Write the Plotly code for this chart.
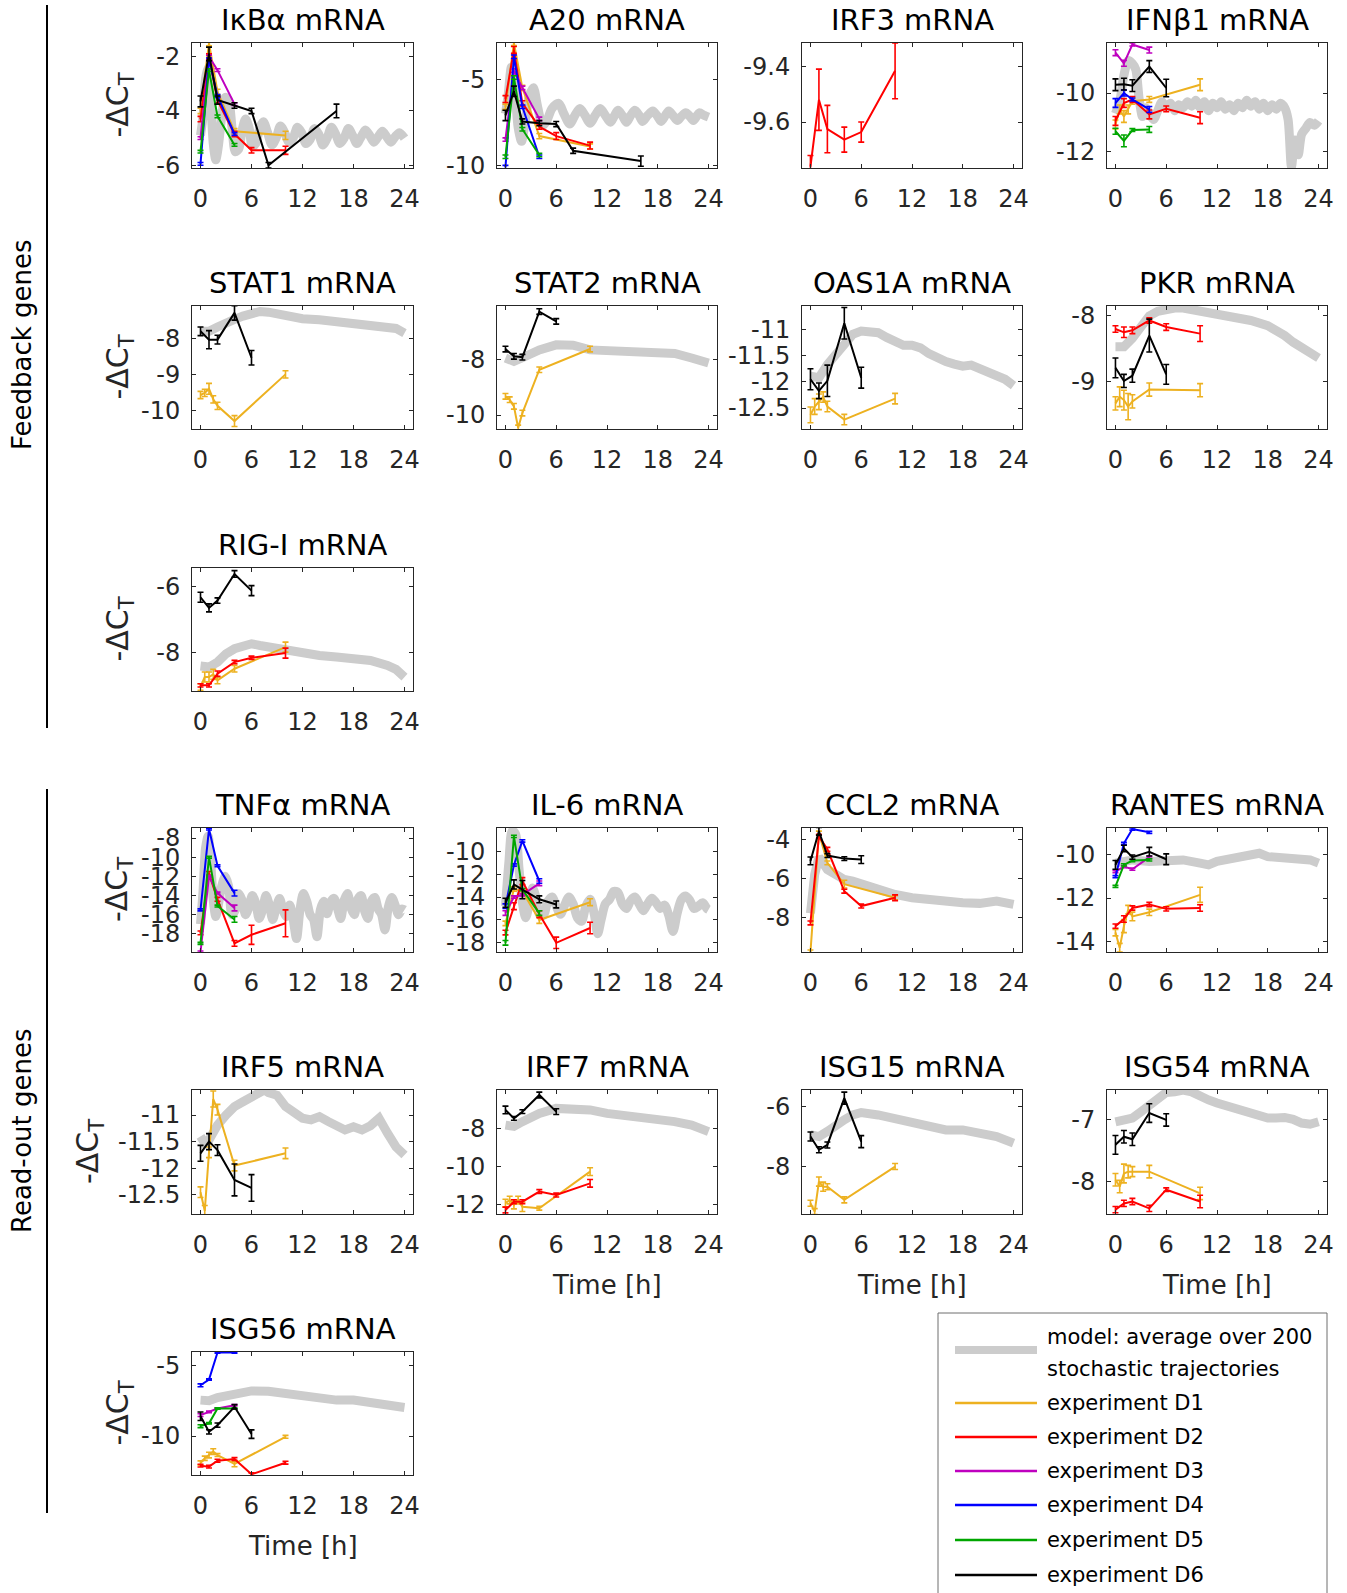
import plotly.graph_objects as go

# ---------------- time grids ----------------
T_D1 = [0, 0.5, 1, 1.5, 2, 4, 10]
T_D1S = [0, 1, 2, 4, 10]
T_D2 = [0, 1, 2, 4, 6, 10]
T_D345 = [0, 1, 2, 4]
T_D6 = [0, 1, 2, 4, 6]
T_D6L = [0, 1, 2, 4, 6, 8, 16]
T_HOURLY = list(range(25))

# ---------------- IkBa ----------------
IKBA_MODEL_T = [0, 0.3, 0.6, 0.9, 1.2, 1.5, 1.8, 2.1, 2.5, 2.9, 3.3, 3.7, 4.1, 4.5, 4.9, 5.3, 5.7, 6.1, 6.5, 7.0,
                7.4, 7.9, 8.4, 8.9, 9.4, 9.9, 10.4, 10.9, 11.4, 11.9, 12.4, 12.9, 13.4, 13.9, 14.4, 14.9, 15.4,
                15.9, 16.4, 16.9, 17.4, 17.9, 18.4, 18.9, 19.4, 19.9, 20.4, 20.9, 21.4, 21.9, 22.4, 22.9, 23.4, 24]
IKBA_MODEL = [-4.9, -4.2, -2.8, -2.4, -3.6, -5.2, -5.8, -5.3, -4.2, -3.5, -3.6, -4.6, -5.5, -5.4, -4.7, -4.3, -4.6,
              -5.3, -5.2, -4.6, -4.4, -4.8, -5.25, -5.0, -4.55, -4.8, -5.15, -5.0, -4.6, -4.8, -5.2, -5.05, -4.65,
              -4.85, -5.25, -5.0, -4.6, -4.85, -5.2, -5.0, -4.65, -4.9, -5.2, -4.95, -4.7, -4.9, -5.15, -4.95,
              -4.75, -4.95, -5.15, -4.95, -4.8, -5.0]
IKBA_D1 = [-4.0, -1.5, -3.3, -4.75, -4.9]
IKBA_D1_ERR = [0.1, 0.1, 0.1, 0.1, 0.15]
IKBA_D2 = [-4.3, -2.0, -3.6, -4.85, -5.45, -5.45]
IKBA_D2_ERR = [0.1, 0.1, 0.1, 0.1, 0.1, 0.15]
IKBA_D3 = [-5.0, -2.0, -2.5, -3.75]
IKBA_D4 = [-5.95, -2.1, -3.45, -4.85]
IKBA_D5 = [-5.5, -2.5, -4.2, -5.25]
IKBA_D345_ERR = [0.05, 0.05, 0.05, 0.05]
IKBA_D6 = [-3.65, -1.9, -3.6, -3.8, -4.0, -6.0, -4.0]
IKBA_D6_ERR = [0.2, 0.25, 0.15, 0.1, 0.1, 0.1, 0.25]

# ---------------- A20 ----------------
A20_MODEL_T = [0, 0.3, 0.7, 1.1, 1.5, 1.9, 2.3, 2.8, 3.3, 3.8, 4.4, 4.9, 5.5, 6.3, 6.9, 7.6, 8.2, 8.8, 9.4, 10.0,
               10.6, 11.2, 11.8, 12.4, 12.9, 13.3, 13.8, 14.3, 14.8, 15.3, 15.8, 16.2, 16.8, 17.4, 17.9, 18.4,
               18.9, 19.3, 19.8, 20.3, 20.8, 21.3, 21.7, 22.2, 22.6, 22.9, 23.5, 24]
A20_MODEL = [-7.0, -6.0, -4.3, -5.5, -7.8, -8.6, -7.6, -6.0, -5.5, -6.6, -7.7, -7.4, -6.7, -6.4, -7.0, -7.6, -7.1,
             -6.7, -7.1, -7.55, -7.1, -6.7, -7.1, -7.5, -7.1, -6.8, -7.1, -7.5, -7.1, -6.8, -7.1, -7.45, -7.1,
             -6.85, -7.1, -7.45, -7.1, -6.85, -7.1, -7.4, -7.15, -6.95, -7.1, -7.4, -7.15, -6.95, -7.1, -7.2]
A20_D1 = [-6.6, -2.9, -5.5, -8.3, -8.9]
A20_D1_ERR = [0.15, 0.15, 0.15, 0.15, 0.15]
A20_D2 = [-6.15, -3.3, -6.4, -7.75, -8.3, -8.85]
A20_D2_ERR = [0.2, 0.2, 0.15, 0.15, 0.2, 0.2]
A20_D3 = [-8.5, -4.5, -5.5, -7.3]
A20_D4 = [-10.1, -3.7, -6.6, -9.5]
A20_D5 = [-9.5, -4.9, -7.9, -9.4]
A20_D345_ERR = [0.1, 0.1, 0.1, 0.1]
A20_D6 = [-7.1, -5.7, -7.45, -7.55, -7.6, -9.15, -9.75]
A20_D6_ERR = [0.3, 0.3, 0.15, 0.15, 0.15, 0.15, 0.3]

# ---------------- IRF3 ----------------
IRF3_D2 = [-9.76, -9.52, -9.625, -9.663, -9.636, -9.416]
IRF3_D2_ERR = [0.04, 0.11, 0.085, 0.045, 0.036, 0.1]

# ---------------- IFNb1 ----------------
IFNB_MODEL_T = [0, 0.5, 1.0, 1.5, 2.0, 2.4, 2.8, 3.2, 3.6, 4.0, 4.5, 5.0, 5.5, 6.0, 6.5, 7.0, 7.5, 8.0, 8.5, 9.0,
                9.5, 10.0, 10.5, 11.0, 11.5, 12.0, 12.5, 13.0, 13.5, 14.0, 14.5, 15.0, 15.5, 16.0, 16.5, 17.0,
                17.5, 18.0, 18.5, 19.0, 19.5, 20.0, 20.4, 20.8, 21.2, 21.6, 22.0, 22.5, 23.0, 23.5, 24.0]
IFNB_MODEL = [-10.7, -10.3, -9.4, -8.9, -9.0, -9.2, -10.2, -10.8, -10.5, -10.7, -10.9, -10.6, -10.3, -10.5, -10.35,
              -10.6, -10.4, -10.5, -10.3, -10.45, -10.25, -10.5, -10.3, -10.6, -10.35, -10.5, -10.3, -10.55,
              -10.4, -10.6, -10.35, -10.5, -10.25, -10.45, -10.3, -10.55, -10.35, -10.6, -10.4, -10.55, -10.35,
              -10.5, -10.9, -12.5, -11.6, -12.1, -11.4, -11.2, -11.0, -11.1, -10.95]
IFNB_D1 = [-11.07, -10.56, -10.8, -10.56, -10.28, -10.22, -9.72]
IFNB_D1_ERR = [0.15, 0.15, 0.2, 0.15, 0.1, 0.1, 0.2]
IFNB_D2 = [-10.95, -10.34, -10.22, -10.73, -10.54, -10.84]
IFNB_D2_ERR = [0.15, 0.15, 0.1, 0.15, 0.1, 0.2]
IFNB_D3 = [-8.63, -8.99, -8.35, -8.54]
IFNB_D3_ERR = [0.1, 0.1, 0.05, 0.1]
IFNB_D4 = [-10.34, -10.0, -10.22, -10.56]
IFNB_D4_ERR = [0.15, 0.1, 0.05, 0.1]
IFNB_D5 = [-11.3, -11.63, -11.26, -11.24]
IFNB_D5_ERR = [0.1, 0.2, 0.05, 0.1]
IFNB_D6 = [-9.72, -9.7, -9.75, -9.1, -9.83]
IFNB_D6_ERR = [0.2, 0.2, 0.2, 0.2, 0.3]

# ---------------- STAT1 ----------------
STAT1_MODEL_T = [0, 1, 2, 3, 4, 5, 6, 7, 8, 10, 12, 14, 16, 18, 20, 22, 23, 24]
STAT1_MODEL = [-7.8, -7.8, -7.68, -7.55, -7.47, -7.38, -7.3, -7.25, -7.27, -7.38, -7.45, -7.48, -7.52, -7.57,
               -7.63, -7.7, -7.72, -7.85]
STAT1_D1 = [-9.56, -9.5, -9.39, -9.68, -9.86, -10.28, -8.99]
STAT1_D1_ERR = [0.1, 0.1, 0.15, 0.1, 0.1, 0.15, 0.1]
STAT1_D6 = [-7.8, -8.03, -8.03, -7.29, -8.53]
STAT1_D6_ERR = [0.12, 0.25, 0.12, 0.2, 0.2]

# ---------------- STAT2 ----------------
STAT2_MODEL_T = [0, 1, 2, 4, 6, 8, 10, 12, 14, 16, 18, 20, 22, 24]
STAT2_MODEL = [-7.96, -8.08, -7.95, -7.67, -7.49, -7.5, -7.67, -7.7, -7.73, -7.78, -7.85, -7.8, -7.96, -8.14]
STAT2_D1 = [-9.33, -9.45, -9.69, -10.46, -9.93, -8.38, -7.64]
STAT2_D1_ERR = [0.1, 0.1, 0.1, 0.1, 0.1, 0.1, 0.1]
STAT2_D6 = [-7.64, -7.9, -7.93, -6.3, -6.65]
STAT2_D6_ERR = [0.1, 0.1, 0.1, 0.1, 0.1]

# ---------------- OAS1A ----------------
OAS1A_MODEL = [-11.89, -11.92, -11.67, -11.49, -11.25, -11.09, -11.03, -11.06, -11.06, -11.15, -11.25, -11.3,
               -11.3, -11.35, -11.46, -11.55, -11.61, -11.66, -11.7, -11.68, -11.74, -11.8, -11.86, -11.95, -12.07]
OAS1A_D1 = [-12.63, -12.47, -12.38, -12.29, -12.47, -12.72, -12.32]
OAS1A_D1_ERR = [0.15, 0.15, 0.15, 0.1, 0.1, 0.1, 0.1]
OAS1A_D6 = [-11.95, -12.17, -11.98, -10.88, -11.92]
OAS1A_D6_ERR = [0.2, 0.15, 0.3, 0.3, 0.2]

# ---------------- PKR ----------------
PKR_MODEL_T = [0, 1, 2, 3, 4, 5, 6, 7, 8, 9, 10, 12, 14, 16, 18, 19, 20, 21, 22, 23, 24]
PKR_MODEL = [-8.47, -8.47, -8.34, -8.17, -8.0, -7.93, -7.9, -7.88, -7.88, -7.9, -7.93, -7.98, -8.0, -8.07,
             -8.15, -8.22, -8.3, -8.4, -8.49, -8.59, -8.64]
PKR_D1 = [-9.33, -9.23, -9.28, -9.38, -9.3, -9.12, -9.13]
PKR_D1_ERR = [0.1, 0.15, 0.15, 0.2, 0.1, 0.1, 0.1]
PKR_D2 = [-8.2, -8.25, -8.22, -8.07, -8.17, -8.27]
PKR_D2_ERR = [0.05, 0.08, 0.05, 0.04, 0.05, 0.12]
PKR_D6 = [-8.79, -8.99, -8.91, -8.3, -8.89]
PKR_D6_ERR = [0.15, 0.1, 0.1, 0.25, 0.15]

# ---------------- RIG-I ----------------
RIGI_MODEL_T = [0, 1, 2, 3, 4, 5, 6, 7, 8, 10, 12, 14, 16, 18, 20, 22, 23, 24]
RIGI_MODEL = [-8.4, -8.43, -8.28, -8.03, -7.88, -7.78, -7.73, -7.78, -7.83, -7.88, -7.98, -8.08, -8.13, -8.18,
              -8.23, -8.38, -8.5, -8.73]
RIGI_D1 = [-9.03, -8.73, -8.73, -8.65, -8.83, -8.48, -7.83]
RIGI_D1_ERR = [0.1, 0.15, 0.15, 0.15, 0.1, 0.1, 0.15]
RIGI_D2 = [-8.98, -8.98, -8.63, -8.28, -8.15, -8.01]
RIGI_D2_ERR = [0.05, 0.05, 0.08, 0.05, 0.05, 0.15]
RIGI_D6 = [-6.33, -6.65, -6.43, -5.63, -6.13]
RIGI_D6_ERR = [0.15, 0.12, 0.08, 0.1, 0.15]

# ---------------- TNFa ----------------
TNF_MODEL_T = [0, 0.3, 0.6, 0.9, 1.2, 1.5, 1.8, 2.1, 2.5, 2.9, 3.3, 3.7, 4.1, 4.5, 4.9, 5.3, 5.7, 6.1, 6.5, 6.9,
               7.3, 7.7, 8.1, 8.5, 8.9, 9.3, 9.7, 10.1, 10.5, 10.9, 11.3, 11.7, 12.1, 12.5, 12.9, 13.3, 13.7, 14.1,
               14.5, 14.9, 15.3, 15.7, 16.1, 16.5, 16.9, 17.3, 17.7, 18.1, 18.5, 18.9, 19.3, 19.7, 20.1, 20.5,
               20.9, 21.3, 21.7, 22.1, 22.5, 22.9, 23.3, 23.7, 24]
TNF_MODEL = [-17.0, -13.5, -9.0, -7.8, -10.5, -14.5, -16.2, -15.0, -13.0, -12.0, -13.0, -16.0, -15.5, -13.8, -14.5,
             -16.0, -15.2, -14.0, -14.8, -16.4, -15.5, -14.0, -15.0, -16.5, -15.3, -14.3, -15.5, -16.2, -15.0,
             -16.5, -18.5, -15.5, -13.8, -14.6, -16.0, -16.5, -18.3, -15.5, -14.6, -15.9, -14.7, -14.3, -15.3,
             -16.4, -14.5, -13.8, -15.3, -16.0, -14.4, -14.0, -15.6, -16.4, -14.6, -14.2, -15.4, -16.0, -17.6,
             -15.2, -14.2, -15.0, -16.0, -15.4, -15.5]
TNF_D2 = [-17.9, -11.7, -14.4, -19.0, -18.1, -16.9]
TNF_D2_ERR = [0.2, 0.2, 0.2, 0.3, 1.0, 1.4]
TNF_D3 = [-19.9, -12.0, -13.75, -15.3]
TNF_D4 = [-15.5, -7.06, -10.9, -13.75]
TNF_D5 = [-19.0, -10.0, -15.1, -16.5]
TNF_D345_ERR = [0.1, 0.1, 0.1, 0.3]

# ---------------- IL-6 ----------------
IL6_MODEL_T = [0, 0.4, 0.8, 1.2, 1.6, 2.0, 2.4, 2.8, 3.2, 3.6, 4.0, 4.5, 5.0, 5.5, 6.0, 6.5, 7.0, 7.5, 8.0, 8.5,
               9.0, 9.5, 10.0, 10.5, 10.9, 11.3, 11.8, 12.3, 12.8, 13.3, 13.8, 14.3, 14.8, 15.3, 15.8, 16.3, 16.8,
               17.3, 17.8, 18.3, 18.8, 19.3, 19.8, 20.3, 20.8, 21.3, 21.8, 22.3, 22.8, 23.3, 23.8, 24]
IL6_MODEL = [-14.8, -11.0, -8.2, -8.5, -11.5, -14.5, -15.8, -14.6, -13.2, -14.0, -15.5, -15.6, -14.4, -14.0, -14.8,
             -15.5, -14.7, -14.0, -14.6, -15.8, -16.1, -14.8, -14.2, -15.5, -17.2, -16.0, -14.6, -14.2, -13.5,
             -13.6, -14.6, -15.0, -14.3, -14.0, -14.6, -15.2, -14.6, -14.1, -14.5, -15.0, -14.7, -15.6, -17.0,
             -15.4, -14.2, -13.9, -14.3, -15.0, -14.8, -14.5, -15.0, -15.1]
IL6_D1 = [-16.3, -13.3, -13.5, -16.0, -14.45]
IL6_D1_ERR = [0.2, 0.2, 0.2, 0.3, 0.3]
IL6_D2 = [-17.1, -14.8, -12.6, -15.5, -18.0, -16.7]
IL6_D2_ERR = [0.2, 0.3, 0.3, 0.3, 0.5, 0.5]
IL6_D3 = [-15.4, -14.0, -13.8, -12.8]
IL6_D4 = [-14.8, -11.2, -9.1, -12.6]
IL6_D5 = [-18.0, -8.7, -13.35, -15.4]
IL6_D345_ERR = [0.2, 0.1, 0.1, 0.2]
IL6_D6 = [-14.5, -12.9, -13.35, -14.2, -14.65]
IL6_D6_ERR = [0.4, 0.4, 0.8, 0.3, 0.3]

# ---------------- CCL2 ----------------
CCL2_MODEL_T = [0, 0.5, 1, 1.5, 2, 3, 4, 5, 6, 8, 10, 12, 14, 16, 18, 20, 22, 24]
CCL2_MODEL = [-7.8, -5.8, -4.9, -5.3, -5.55, -5.8, -6.06, -6.14, -6.3, -6.57, -6.83, -7.0, -7.09, -7.26, -7.26,
              -7.29, -7.17, -7.34]
CCL2_D1 = [-9.8, -3.66, -5.2, -6.3, -7.0]
CCL2_D1_ERR = [0.1, 0.1, 0.1, 0.2, 0.1]
CCL2_D2 = [-8.3, -3.83, -4.5, -6.66, -7.43, -7.0]
CCL2_D2_ERR = [0.1, 0.1, 0.1, 0.1, 0.1, 0.15]
CCL2_D6 = [-5.1, -3.57, -4.82, -4.98, -5.03]
CCL2_D6_ERR = [0.2, 0.2, 0.1, 0.1, 0.2]

# ---------------- RANTES ----------------
RANTES_MODEL_T = [0, 1, 2, 4, 6, 8, 10, 11, 12, 14, 16, 17, 18, 20, 22, 23, 24]
RANTES_MODEL = [-10.38, -10.3, -10.23, -10.3, -10.3, -10.23, -10.38, -10.46, -10.3, -10.15, -9.95, -9.92, -10.08,
                -10.15, -10.15, -10.23, -10.38]
RANTES_D1 = [-13.6, -14.3, -13.3, -12.54, -12.85, -12.66, -11.85]
RANTES_D1_ERR = [0.15, 0.2, 0.3, 0.2, 0.2, 0.15, 0.35]
RANTES_D2 = [-13.3, -12.97, -12.46, -12.3, -12.5, -12.46]
RANTES_D2_ERR = [0.1, 0.15, 0.1, 0.1, 0.1, 0.15]
RANTES_D3 = [-10.77, -10.54, -10.66, -10.1]
RANTES_D4 = [-11.0, -9.46, -8.8, -8.95]
RANTES_D5 = [-11.46, -10.46, -10.26, -10.23]
RANTES_D345_ERR = [0.05, 0.05, 0.05, 0.05]
RANTES_D6 = [-10.46, -9.7, -10.1, -9.85, -10.2]
RANTES_D6_ERR = [0.2, 0.15, 0.1, 0.2, 0.25]

# ---------------- IRF5 ----------------
IRF5_MODEL_T = [0, 0.5, 1, 2, 3, 4, 5, 6, 7, 7.5, 8, 9, 10, 11, 12, 13, 14, 15, 16, 17, 18, 19, 20, 21, 22, 23, 24]
IRF5_MODEL = [-11.4, -11.53, -11.47, -11.19, -11.0, -10.84, -10.75, -10.66, -10.6, -10.53, -10.58, -10.63, -10.84,
              -10.97, -11.06, -11.09, -11.03, -11.12, -11.19, -11.28, -11.22, -11.28, -11.2, -11.06, -11.34,
              -11.6, -11.75]
IRF5_D1 = [-12.45, -12.8, -11.7, -10.7, -10.9, -11.95, -11.72]
IRF5_D1_ERR = [0.1, 0.1, 0.1, 0.15, 0.1, 0.1, 0.1]
IRF5_D6 = [-11.72, -11.5, -11.66, -12.22, -12.37]
IRF5_D6_ERR = [0.15, 0.15, 0.1, 0.3, 0.25]

# ---------------- IRF7 ----------------
IRF7_MODEL_T = [0, 1, 2, 4, 6, 8, 10, 12, 14, 16, 18, 20, 22, 24]
IRF7_MODEL = [-7.83, -7.9, -7.65, -7.22, -6.96, -6.96, -7.04, -7.22, -7.3, -7.48, -7.57, -7.65, -7.83, -8.17]
IRF7_D1 = [-11.9, -11.74, -12.0, -11.74, -12.09, -12.17, -10.26]
IRF7_D1_ERR = [0.2, 0.2, 0.2, 0.2, 0.25, 0.1, 0.2]
IRF7_D2 = [-12.26, -11.83, -11.83, -11.3, -11.48, -10.87]
IRF7_D2_ERR = [0.15, 0.1, 0.1, 0.1, 0.1, 0.2]
IRF7_D6 = [-7.04, -7.48, -7.13, -6.26, -7.13]
IRF7_D6_ERR = [0.2, 0.1, 0.1, 0.15, 0.15]

# ---------------- ISG15 ----------------
ISG15_MODEL_T = [0, 1, 2, 3, 4, 5, 6, 8, 10, 12, 14, 16, 18, 20, 22, 24]
ISG15_MODEL = [-6.94, -7.0, -6.83, -6.61, -6.44, -6.28, -6.2, -6.28, -6.39, -6.5, -6.67, -6.78, -6.78, -6.89,
               -7.0, -7.22]
ISG15_D1 = [-9.22, -9.5, -8.5, -8.67, -8.67, -9.11, -8.0]
ISG15_D1_ERR = [0.1, 0.1, 0.15, 0.15, 0.1, 0.1, 0.1]
ISG15_D6 = [-7.0, -7.44, -7.28, -5.72, -7.17]
ISG15_D6_ERR = [0.15, 0.1, 0.1, 0.2, 0.2]

# ---------------- ISG54 ----------------
ISG54_MODEL = [-7.04, -7.02, -6.98, -6.88, -6.77, -6.64, -6.57, -6.56, -6.53, -6.56, -6.64, -6.69, -6.74, -6.78,
               -6.82, -6.88, -6.93, -6.96, -6.98, -6.98, -6.97, -7.0, -7.06, -7.08, -7.04]
ISG54_D1 = [-7.97, -8.08, -7.87, -7.84, -7.84, -7.84, -8.19]
ISG54_D1_ERR = [0.1, 0.1, 0.15, 0.1, 0.08, 0.1, 0.1]
ISG54_D2 = [-8.45, -8.35, -8.32, -8.43, -8.13, -8.32]
ISG54_D2_ERR = [0.05, 0.05, 0.05, 0.05, 0.03, 0.1]
ISG54_D6 = [-7.41, -7.28, -7.32, -6.9, -7.01]
ISG54_D6_ERR = [0.15, 0.1, 0.1, 0.15, 0.1]

# ---------------- ISG56 ----------------
ISG56_MODEL_T = [0, 1, 2, 4, 6, 8, 10, 12, 14, 16, 18, 20, 22, 24]
ISG56_MODEL = [-7.46, -7.5, -7.28, -7.0, -6.81, -6.83, -7.0, -7.18, -7.35, -7.46, -7.46, -7.65, -7.82, -7.98]
ISG56_D1 = [-11.9, -11.57, -11.34, -11.1, -11.34, -11.97, -10.05]
ISG56_D1_ERR = [0.15, 0.15, 0.2, 0.2, 0.1, 0.2, 0.1]
ISG56_D2 = [-12.09, -12.16, -11.74, -11.62, -12.7, -11.88]
ISG56_D2_ERR = [0.1, 0.1, 0.1, 0.1, 0.1, 0.1]
ISG56_D3 = [-8.52, -8.29, -8.05, -7.82]
ISG56_D4 = [-6.41, -6.01, -4.1, -4.1]
ISG56_D5 = [-9.3, -9.1, -8.05, -8.05]
ISG56_D345_ERR = [0.1, 0.05, 0.05, 0.05]
ISG56_D6 = [-8.6, -9.7, -9.23, -7.93, -9.86]
ISG56_D6_ERR = [0.3, 0.15, 0.15, 0.15, 0.3]

# ---------------- styling ----------------
FIG_W, FIG_H = 1347, 1593
FONT = "DejaVu Sans, Liberation Sans, Arial, sans-serif"
AX_COLOR = "#262626"
MODEL_COLOR = "#CCCCCC"
EXP_COLORS = {"D1": "#EDB120", "D2": "#FF0000", "D3": "#BF00BF", "D4": "#0000FF", "D5": "#00A600", "D6": "#000000"}
COL_X = [(192, 413), (497, 717), (802, 1022), (1107, 1327)]
ROW_Y = [(43, 168), (306, 429), (568, 691), (828, 952), (1090, 1214), (1352, 1475)]
SMOOTH_MODELS = {"IκBα mRNA", "A20 mRNA", "IFNβ1 mRNA", "TNFα mRNA", "IL-6 mRNA"}

PANELS = [
    dict(title="IκBα mRNA", row=0, col=0, yr=[-6.1, -1.5], yt=[-6, -4, -2], ylab=119,
         model=(IKBA_MODEL_T, IKBA_MODEL),
         exp=[("D1", T_D1S, IKBA_D1, IKBA_D1_ERR), ("D2", T_D2, IKBA_D2, IKBA_D2_ERR),
              ("D3", T_D345, IKBA_D3, IKBA_D345_ERR), ("D4", T_D345, IKBA_D4, IKBA_D345_ERR),
              ("D5", T_D345, IKBA_D5, IKBA_D345_ERR), ("D6", T_D6L, IKBA_D6, IKBA_D6_ERR)]),
    dict(title="A20 mRNA", row=0, col=1, yr=[-10.15, -2.9], yt=[-10, -5],
         model=(A20_MODEL_T, A20_MODEL),
         exp=[("D1", T_D1S, A20_D1, A20_D1_ERR), ("D2", T_D2, A20_D2, A20_D2_ERR),
              ("D3", T_D345, A20_D3, A20_D345_ERR), ("D4", T_D345, A20_D4, A20_D345_ERR),
              ("D5", T_D345, A20_D5, A20_D345_ERR), ("D6", T_D6L, A20_D6, A20_D6_ERR)]),
    dict(title="IRF3 mRNA", row=0, col=2, yr=[-9.765, -9.316], yt=[-9.6, -9.4], model=None,
         exp=[("D2", T_D2, IRF3_D2, IRF3_D2_ERR)]),
    dict(title="IFNβ1 mRNA", row=0, col=3, yr=[-12.55, -8.3], yt=[-12, -10],
         model=(IFNB_MODEL_T, IFNB_MODEL),
         exp=[("D1", T_D1, IFNB_D1, IFNB_D1_ERR), ("D2", T_D2, IFNB_D2, IFNB_D2_ERR),
              ("D3", T_D345, IFNB_D3, IFNB_D3_ERR), ("D4", T_D345, IFNB_D4, IFNB_D4_ERR),
              ("D5", T_D345, IFNB_D5, IFNB_D5_ERR), ("D6", T_D6, IFNB_D6, IFNB_D6_ERR)]),
    dict(title="STAT1 mRNA", row=1, col=0, yr=[-10.5, -7.1], yt=[-10, -9, -8], ylab=119,
         model=(STAT1_MODEL_T, STAT1_MODEL),
         exp=[("D1", T_D1, STAT1_D1, STAT1_D1_ERR), ("D6", T_D6, STAT1_D6, STAT1_D6_ERR)]),
    dict(title="STAT2 mRNA", row=1, col=1, yr=[-10.5, -6.1], yt=[-10, -8],
         model=(STAT2_MODEL_T, STAT2_MODEL),
         exp=[("D1", T_D1, STAT2_D1, STAT2_D1_ERR), ("D6", T_D6, STAT2_D6, STAT2_D6_ERR)]),
    dict(title="OAS1A mRNA", row=1, col=2, yr=[-12.9, -10.55], yt=[-12.5, -12, -11.5, -11],
         model=(T_HOURLY, OAS1A_MODEL),
         exp=[("D1", T_D1, OAS1A_D1, OAS1A_D1_ERR), ("D6", T_D6, OAS1A_D6, OAS1A_D6_ERR)]),
    dict(title="PKR mRNA", row=1, col=3, yr=[-9.72, -7.85], yt=[-9, -8],
         model=(PKR_MODEL_T, PKR_MODEL),
         exp=[("D1", T_D1, PKR_D1, PKR_D1_ERR), ("D2", T_D2, PKR_D2, PKR_D2_ERR),
              ("D6", T_D6, PKR_D6, PKR_D6_ERR)]),
    dict(title="RIG-I mRNA", row=2, col=0, yr=[-9.15, -5.45], yt=[-8, -6], ylab=119,
         model=(RIGI_MODEL_T, RIGI_MODEL),
         exp=[("D1", T_D1, RIGI_D1, RIGI_D1_ERR), ("D2", T_D2, RIGI_D2, RIGI_D2_ERR),
              ("D6", T_D6, RIGI_D6, RIGI_D6_ERR)]),
    dict(title="TNFα mRNA", row=3, col=0, yr=[-19.9, -6.95], yt=[-18, -16, -14, -12, -10, -8], ylab=119,
         model=(TNF_MODEL_T, TNF_MODEL),
         exp=[("D2", T_D2, TNF_D2, TNF_D2_ERR), ("D3", T_D345, TNF_D3, TNF_D345_ERR),
              ("D4", T_D345, TNF_D4, TNF_D345_ERR), ("D5", T_D345, TNF_D5, TNF_D345_ERR)]),
    dict(title="IL-6 mRNA", row=3, col=1, yr=[-18.8, -7.97], yt=[-18, -16, -14, -12, -10],
         model=(IL6_MODEL_T, IL6_MODEL),
         exp=[("D1", T_D1S, IL6_D1, IL6_D1_ERR), ("D2", T_D2, IL6_D2, IL6_D2_ERR),
              ("D3", T_D345, IL6_D3, IL6_D345_ERR), ("D4", T_D345, IL6_D4, IL6_D345_ERR),
              ("D5", T_D345, IL6_D5, IL6_D345_ERR), ("D6", T_D6, IL6_D6, IL6_D6_ERR)]),
    dict(title="CCL2 mRNA", row=3, col=2, yr=[-9.8, -3.4], yt=[-8, -6, -4],
         model=(CCL2_MODEL_T, CCL2_MODEL),
         exp=[("D1", T_D1S, CCL2_D1, CCL2_D1_ERR), ("D2", T_D2, CCL2_D2, CCL2_D2_ERR),
              ("D6", T_D6, CCL2_D6, CCL2_D6_ERR)]),
    dict(title="RANTES mRNA", row=3, col=3, yr=[-14.5, -8.75], yt=[-14, -12, -10],
         model=(RANTES_MODEL_T, RANTES_MODEL),
         exp=[("D1", T_D1, RANTES_D1, RANTES_D1_ERR), ("D2", T_D2, RANTES_D2, RANTES_D2_ERR),
              ("D3", T_D345, RANTES_D3, RANTES_D345_ERR), ("D4", T_D345, RANTES_D4, RANTES_D345_ERR),
              ("D5", T_D345, RANTES_D5, RANTES_D345_ERR), ("D6", T_D6, RANTES_D6, RANTES_D6_ERR)]),
    dict(title="IRF5 mRNA", row=4, col=0, yr=[-12.86, -10.53], yt=[-12.5, -12, -11.5, -11], ylab=89,
         model=(IRF5_MODEL_T, IRF5_MODEL),
         exp=[("D1", T_D1, IRF5_D1, IRF5_D1_ERR), ("D6", T_D6, IRF5_D6, IRF5_D6_ERR)]),
    dict(title="IRF7 mRNA", row=4, col=1, yr=[-12.47, -6.0], yt=[-12, -10, -8], xlab=True,
         model=(IRF7_MODEL_T, IRF7_MODEL),
         exp=[("D1", T_D1, IRF7_D1, IRF7_D1_ERR), ("D2", T_D2, IRF7_D2, IRF7_D2_ERR),
              ("D6", T_D6, IRF7_D6, IRF7_D6_ERR)]),
    dict(title="ISG15 mRNA", row=4, col=2, yr=[-9.58, -5.45], yt=[-8, -6], xlab=True,
         model=(ISG15_MODEL_T, ISG15_MODEL),
         exp=[("D1", T_D1, ISG15_D1, ISG15_D1_ERR), ("D6", T_D6, ISG15_D6, ISG15_D6_ERR)]),
    dict(title="ISG54 mRNA", row=4, col=3, yr=[-8.52, -6.53], yt=[-8, -7], xlab=True,
         model=(T_HOURLY, ISG54_MODEL),
         exp=[("D1", T_D1, ISG54_D1, ISG54_D1_ERR), ("D2", T_D2, ISG54_D2, ISG54_D2_ERR),
              ("D6", T_D6, ISG54_D6, ISG54_D6_ERR)]),
    dict(title="ISG56 mRNA", row=5, col=0, yr=[-12.75, -4.06], yt=[-10, -5], ylab=119, xlab=True,
         model=(ISG56_MODEL_T, ISG56_MODEL),
         exp=[("D1", T_D1, ISG56_D1, ISG56_D1_ERR), ("D2", T_D2, ISG56_D2, ISG56_D2_ERR),
              ("D3", T_D345, ISG56_D3, ISG56_D345_ERR), ("D4", T_D345, ISG56_D4, ISG56_D345_ERR),
              ("D5", T_D345, ISG56_D5, ISG56_D345_ERR), ("D6", T_D6, ISG56_D6, ISG56_D6_ERR)]),
]


def fx(px):
    return px / FIG_W


def fy(py):
    return 1 - py / FIG_H


fig = go.Figure()
layout = dict(
    template="none",
    width=FIG_W, height=FIG_H, margin=dict(l=0, r=0, t=0, b=0, pad=0, autoexpand=False),
    paper_bgcolor="white", plot_bgcolor="white", showlegend=False,
    font=dict(family=FONT, color=AX_COLOR),
)
annotations = []
shapes = []

for i, p in enumerate(PANELS):
    s = "" if i == 0 else str(i + 1)
    xa, ya = "x" + s, "y" + s
    x0, x1 = COL_X[p["col"]]
    y0, y1 = ROW_Y[p["row"]]
    if p["model"] is not None:
        shape = dict(shape="spline", smoothing=0.8) if p["title"] in SMOOTH_MODELS else dict(shape="linear")
        fig.add_trace(go.Scatter(x=p["model"][0], y=p["model"][1], mode="lines",
                                 line=dict(color=MODEL_COLOR, width=9, **shape), hoverinfo="skip",
                                 xaxis=xa, yaxis=ya))
    for key, t, v, e in p["exp"]:
        c = EXP_COLORS[key]
        fig.add_trace(go.Scatter(x=t, y=v, mode="lines", name="experiment " + key,
                                 line=dict(color=c, width=2),
                                 error_y=dict(type="data", array=e, visible=True, color=c,
                                              thickness=1.6, width=3),
                                 xaxis=xa, yaxis=ya))
    common = dict(showline=True, linecolor=AX_COLOR, linewidth=1, mirror="ticks", ticks="inside",
                  ticklen=4, tickwidth=1, tickcolor=AX_COLOR, showgrid=False, zeroline=False,
                  automargin=False,
                  tickfont=dict(family=FONT, size=24, color=AX_COLOR), fixedrange=True)
    layout["xaxis" + s] = dict(domain=[fx(x0), fx(x1)], range=[-1, 25], tickvals=[0, 6, 12, 18, 24],
                               ticktext=["0", "6", "12", "18", "24"], anchor=ya,
                               ticklabelstandoff=9, **common)
    layout["yaxis" + s] = dict(domain=[fy(y1), fy(y0)], range=p["yr"], tickvals=p["yt"],
                               ticktext=[f"{v:g}" for v in p["yt"]], anchor=xa,
                               ticklabelstandoff=6, **common)
    annotations.append(dict(text=p["title"], x=fx((x0 + x1) / 2), y=fy(y0 - 23), xref="paper", yref="paper",
                            xanchor="center", yanchor="middle", showarrow=False,
                            font=dict(family=FONT, size=29, color="black")))
    if "ylab" in p:
        annotations.append(dict(text="-ΔC<sub>T</sub>", x=fx(p["ylab"]), y=fy((y0 + y1) / 2),
                                xref="paper", yref="paper", xanchor="center", yanchor="middle",
                                textangle=-90, showarrow=False,
                                font=dict(family=FONT, size=30, color=AX_COLOR)))
    if p.get("xlab"):
        annotations.append(dict(text="Time [h]", x=fx((x0 + x1) / 2), y=fy(y1 + 71),
                                xref="paper", yref="paper", xanchor="center", yanchor="middle",
                                showarrow=False, font=dict(family=FONT, size=26, color=AX_COLOR)))

# group labels and brackets
for text, yc, ya_, yb_ in [("Feedback genes", 345, 5, 728), ("Read-out genes", 1131, 789, 1513)]:
    annotations.append(dict(text=text, x=fx(22), y=fy(yc), xref="paper", yref="paper",
                            xanchor="center", yanchor="middle", textangle=-90, showarrow=False,
                            font=dict(family=FONT, size=26, color="black")))
    shapes.append(dict(type="line", xref="paper", yref="paper", x0=fx(47), x1=fx(47), y0=fy(ya_), y1=fy(yb_),
                       line=dict(color="black", width=2)))

# legend box
shapes.append(dict(type="rect", xref="paper", yref="paper", x0=fx(938), x1=fx(1327), y0=fy(1313), y1=fy(1600),
                   line=dict(color="#6f6f6f", width=1), fillcolor="white"))
LEG = [("model", 1350, MODEL_COLOR, 8)] + [(k, yy, EXP_COLORS[k], 2.5) for k, yy in
                                           zip(["D1", "D2", "D3", "D4", "D5", "D6"],
                                               [1403, 1437, 1471, 1505, 1540, 1575])]
for k, yy, c, w in LEG:
    shapes.append(dict(type="line", xref="paper", yref="paper", x0=fx(955), x1=fx(1037), y0=fy(yy), y1=fy(yy),
                       line=dict(color=c, width=w)))
    if k == "model":
        for txt, ty in [("model: average over 200", 1337), ("stochastic trajectories", 1369)]:
            annotations.append(dict(text=txt, x=fx(1045), y=fy(ty), xref="paper", yref="paper",
                                    xanchor="left", yanchor="middle", showarrow=False,
                                    font=dict(family=FONT, size=21, color="black")))
    else:
        annotations.append(dict(text="experiment " + k, x=fx(1045), y=fy(yy), xref="paper", yref="paper",
                                xanchor="left", yanchor="middle", showarrow=False,
                                font=dict(family=FONT, size=21, color="black")))

layout["annotations"] = annotations
layout["shapes"] = shapes
fig.update_layout(**layout)
fig.write_html("out.html")
